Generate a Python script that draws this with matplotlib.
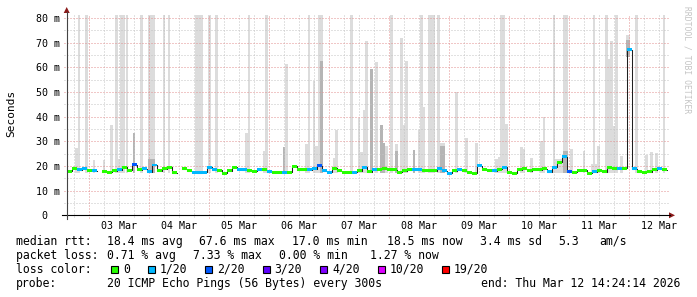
import numpy as np
import matplotlib
matplotlib.use("Agg")
import matplotlib.pyplot as plt
from matplotlib.patches import Polygon, Rectangle
from matplotlib.lines import Line2D

# --- data (times are days of March 2026, values in ms) ---
day_ticks = [3.5, 4.5, 5.5, 6.5, 7.5, 8.5, 9.5, 10.5, 11.5, 12.5]
day_labels = ["03 Mar", "04 Mar", "05 Mar", "06 Mar", "07 Mar",
              "08 Mar", "09 Mar", "10 Mar", "11 Mar", "12 Mar"]
rtt_ticks = [0, 10, 20, 30, 40, 50, 60, 70, 80]
rtt_labels = ["0  ", "10 m", "20 m", "30 m", "40 m", "50 m", "60 m", "70 m", "80 m"]

# median rtt, one value per 2 hour step
median_start = 2.633
median_step = 1 / 12
nan = np.nan
median_rtt = [
    17.8, 18.8, 18.5, 18.8, 18.3, 18.1, nan, 17.6, 17.4, 18.0,
    18.5, 19.4, 18.3, 20.5, 18.4, 18.8, 17.6, 20.4, 18.0, 18.8,
    19.4, 17.3, nan, 18.8, 18.0, 17.5, 17.3, 17.5, 19.4, 18.5,
    18.2, 17.0, 18.1, 19.4, 18.6, 18.4, 18.1, 17.9, 18.4, 18.4,
    17.6, 17.4, 17.4, 17.4, 17.4, 19.8, 18.4, 18.4, 18.4, 18.8,
    20.0, 18.1, 17.4, 19.0, 18.1, 17.5, 17.4, 17.4, 18.1, 19.4,
    17.7, 18.4, 18.6, 19.0, 18.4, 18.4, 17.4, 18.0, 18.4, 18.4,
    18.4, 18.0, 18.0, 18.0, 18.8, 18.0, 17.1, 18.0, 18.4, 18.1,
    17.5, 17.0, 20.0, 18.6, 18.0, 18.0, 18.6, 19.4, 17.4, 17.0,
    18.4, 18.8, 18.0, 18.4, 18.4, 18.8, 17.7, 19.4, 21.5, 23.8,
    17.7, 17.5, 18.0, 18.2, 17.0, 17.7, 18.0, 17.7, 19.4, 18.8,
    19.1, 19.1, 67.2, 18.8, 17.7, 17.4, 17.7, 18.4, 18.8, 18.4,
]
lost_pings = [
    0, 0, 1, 1, 0, 1, 0, 0, 0, 0,
    1, 0, 0, 2, 0, 1, 1, 1, 0, 0,
    0, 0, 0, 0, 0, 1, 1, 1, 1, 1,
    0, 0, 0, 0, 1, 1, 0, 0, 1, 0,
    1, 0, 0, 1, 0, 0, 0, 0, 1, 1,
    2, 1, 1, 0, 0, 0, 0, 1, 0, 1,
    0, 1, 0, 0, 0, 0, 0, 0, 0, 1,
    1, 0, 0, 0, 1, 1, 1, 0, 1, 0,
    0, 0, 1, 0, 0, 1, 0, 1, 0, 0,
    0, 0, 0, 0, 0, 0, 1, 1, 0, 1,
    2, 0, 0, 0, 0, 1, 0, 0, 0, 0,
    1, 0, 1, 1, 0, 0, 0, 0, 1, 0,
]

# smoke: ping spread per interval (min ping, max ping, darker inner part)
smoke_from = [2.767, 2.817, 2.933, 3.067, 3.233, 3.350, 3.433, 3.483, 3.517, 3.617,
              3.733, 3.850, 3.983, 4.233, 4.317, 4.767, 4.983, 5.100, 5.600, 5.650,
              5.900, 5.933, 6.233, 6.267, 6.600, 6.650, 6.733, 6.767, 6.817, 6.850,
              7.067, 7.100, 7.350, 7.483, 7.517, 7.567, 7.600, 7.683, 7.767, 7.850,
              7.900, 7.933, 8.017, 8.100, 8.183, 8.233, 8.267, 8.400, 8.483, 8.517,
              8.567, 8.650, 8.800, 8.850, 9.100, 9.267, 9.433, 9.767, 9.817, 9.850,
              9.933, 10.183, 10.233, 10.350, 10.517, 10.567, 10.733, 10.900, 11.017, 11.233,
              11.400, 11.467, 11.600, 11.650, 11.683, 11.733, 11.767, 11.850, 11.950, 12.100,
              12.267, 12.350, 12.433, 12.567, 10.767, 11.367]
smoke_to = [2.817, 2.850, 2.983, 3.100, 3.267, 3.400, 3.483, 3.517, 3.600, 3.650,
            3.767, 3.900, 4.100, 4.267, 4.350, 4.900, 5.033, 5.150, 5.650, 5.683,
            5.933, 5.983, 6.267, 6.317, 6.650, 6.683, 6.767, 6.817, 6.850, 6.900,
            7.100, 7.150, 7.400, 7.517, 7.567, 7.600, 7.650, 7.733, 7.817, 7.900,
            7.933, 7.983, 8.067, 8.150, 8.233, 8.267, 8.317, 8.433, 8.517, 8.567,
            8.600, 8.767, 8.850, 8.933, 9.150, 9.317, 9.483, 9.817, 9.850, 9.933,
            9.983, 10.233, 10.267, 10.400, 10.567, 10.600, 10.767, 10.983, 11.067, 11.267,
            11.433, 11.517, 11.650, 11.683, 11.733, 11.767, 11.817, 11.900, 12.017, 12.150,
            12.317, 12.400, 12.483, 12.600, 10.900, 11.483]
smoke_low = [17.2] * 78 + [64.0] + [17.2] * 7
smoke_max = [27.3, 95.0, 95.0, 22.4, 22.5, 36.6, 95.0, 23.0, 95.0, 95.0,
             33.4, 95.0, 95.0, 95.0, 95.0, 95.0, 95.0, 95.0, 33.3, 95.0,
             26.0, 95.0, 27.6, 61.4, 28.9, 95.0, 54.6, 28.3, 95.0, 95.0,
             23.2, 34.7, 95.0, 39.5, 25.7, 42.8, 70.8, 59.5, 62.0, 36.7,
             29.3, 28.2, 95.0, 29.0, 71.9, 36.6, 62.7, 26.6, 34.6, 95.0,
             43.9, 95.0, 95.0, 29.3, 49.9, 31.4, 29.3, 22.7, 23.5, 95.0,
             37.0, 27.6, 26.8, 23.4, 30.3, 39.7, 95.0, 95.0, 26.8, 26.2,
             95.0, 28.3, 95.0, 63.5, 70.8, 36.1, 95.0, 24.0, 73.0, 95.0,
             24.6, 25.8, 25.4, 95.0, 23.0, 21.0]
smoke_mid = [nan, nan, nan, nan, nan, nan, nan, nan, nan, nan,
             33.4, nan, 23.0, nan, nan, nan, nan, nan, nan, nan,
             nan, nan, 27.6, nan, nan, nan, nan, nan, nan, 62.7,
             nan, nan, nan, nan, nan, nan, nan, 59.5, nan, 36.7,
             29.3, nan, nan, 26.0, nan, nan, nan, 26.6, nan, nan,
             nan, nan, nan, 28.0, nan, nan, nan, nan, nan, nan,
             nan, nan, nan, nan, nan, nan, nan, 26.0, nan, nan,
             nan, nan, nan, nan, nan, nan, nan, nan, 71.0, nan,
             nan, nan, nan, nan, nan, nan]

loss_steps = [0, 1, 2, 3, 4, 10, 19]
loss_names = ["0", "1/20", "2/20", "3/20", "4/20", "10/20", "19/20"]
loss_colors = ["#26ff00", "#00b8ff", "#0059ff", "#5e00ff", "#7e00ff", "#dd00ff", "#ff0000"]

W, H = 697, 297
MONO = "DejaVu Sans Mono"


def fx(x):
    return x / W


def fy(y):
    return 1 - y / H


fig = plt.figure(figsize=(W / 100, H / 100), dpi=100)
fig.patch.set_facecolor("white")
ax = fig.add_axes([fx(66.7), fy(215.3), fx(668) - fx(66.7), fy(15) - fy(215.3)])
ax.set_xlim(2.628, 12.650)
ax.set_ylim(0, 81.22)
for s in ax.spines.values():
    s.set_visible(False)
ax.set_facecolor("white")

# --- smoke ---
s_from = np.array(smoke_from)
s_w = np.array(smoke_to) - s_from
s_low = np.array(smoke_low)
s_max = np.array(smoke_max)
s_mid = np.array(smoke_mid)
ax.bar(s_from, s_max - s_low, width=s_w, bottom=s_low, align="edge",
       color="#dcdcdc", lw=0, zorder=1)
has_mid = ~np.isnan(s_mid)
ax.bar(s_from[has_mid], s_mid[has_mid] - s_low[has_mid], width=s_w[has_mid],
       bottom=s_low[has_mid], align="edge", color="#b5b5b5", lw=0, zorder=1.1)

# --- grid ---
x0, x1 = ax.get_xlim()
y1 = ax.get_ylim()[1]
px_x = 1 / 60.0
px_y = 1 / 2.466
minor_x = [d / 4 for d in range(11, 51) if d % 4 != 0 and x0 < d / 4 < x1]
major_x = [d for d in range(3, 13)]
minor_y = [v + 5 for v in rtt_ticks[:-1]]
dot = dict(lw=0.72, linestyle=(0, (1, 2)), zorder=2, clip_on=False)
ax.vlines(minor_x, -2 * px_y, y1, color="#c4c4c4", **dot)
ax.hlines(minor_y, x0 - 3 * px_x, x1, color="#c4c4c4", **dot)
ax.vlines(major_x, -3 * px_y, y1, color="#e29191", **dot)
ax.hlines(rtt_ticks[1:], x0 - 3 * px_x, x1, color="#e29191", **dot)

# --- median line with loss colour bands ---
med = np.array(median_rtt)
edges = median_start + median_step * np.arange(len(med) + 1)
ax.plot(edges, np.append(med, med[-1]), drawstyle="steps-post", color="#202020",
        lw=0.75, zorder=3)
band = 0.6
lost = np.array(lost_pings)
for lv, col in zip(loss_steps, loss_colors):
    m = (lost == lv) & ~np.isnan(med)
    if m.any():
        ax.bar(edges[:-1][m], 2 * band, width=median_step, bottom=med[m] - band,
               align="edge", color=col, lw=0, zorder=4)

# --- ticks ---
ax.set_xticks(day_ticks, day_labels)
ax.set_yticks(rtt_ticks, rtt_labels)
ax.tick_params(axis="both", length=0, labelsize=7.2, colors="black")
ax.tick_params(axis="x", pad=4.2)
ax.tick_params(axis="y", pad=4.6)
for lab in ax.get_xticklabels() + ax.get_yticklabels():
    lab.set_family(MONO)

# --- axes and arrows (figure pixels) ---
arrow_col = "#8b1a1a"
fig.add_artist(Line2D([fx(62), fx(670)], [fy(215.3), fy(215.3)], color="black", lw=0.8))
fig.add_artist(Line2D([fx(66.7), fx(66.7)], [fy(219), fy(12)], color="#444444", lw=0.8))
fig.add_artist(Polygon([(fx(669), fy(212.3)), (fx(675), fy(215.3)), (fx(669), fy(218.3))],
                       closed=True, color=arrow_col, lw=0))
fig.add_artist(Polygon([(fx(63.7), fy(13)), (fx(66.7), fy(7)), (fx(69.7), fy(13))],
                       closed=True, color=arrow_col, lw=0))

fig.text(fx(10.8), fy(113.5), "Seconds", rotation=90, ha="center", va="center",
         fontsize=8, family=MONO)
fig.text(fx(687.5), fy(60), "RRDTOOL / TOBI OETIKER", rotation=-90, ha="center",
         va="center", fontsize=5.8, family=MONO, color="#c4c4c4")

# --- legend ---
leg = dict(fontsize=8.3, family=MONO, va="center", ha="left")
row1 = [(15.5, "median rtt:"), (106.7, "18.4 ms avg"), (199, "67.6 ms max"),
        (292, "17.0 ms min"), (387, "18.5 ms now"), (480.5, "3.4 ms sd"),
        (558.3, "5.3"), (599.3, "am/s")]
row2 = [(15.5, "packet loss:"), (106.7, "0.71 % avg"), (193, "7.33 % max"),
        (279, "0.00 % min"), (369.5, "1.27 % now")]
for x, t in row1:
    fig.text(fx(x), fy(241.5), t, **leg)
for x, t in row2:
    fig.text(fx(x), fy(255.5), t, **leg)

fig.text(fx(15.5), fy(269.5), "loss color:", **leg)
bx = 111.0
char_w = 6.95
for name, col in zip(loss_names, loss_colors):
    fig.add_artist(Rectangle((fx(bx), fy(273)), fx(7), fy(266) - fy(273),
                             facecolor=col, edgecolor="black", lw=0.8))
    fig.text(fx(bx + 12), fy(269.5), name, **leg)
    bx = bx + 12 + len(name) * char_w + 17.7

fig.text(fx(15.5), fy(283.5), "probe:", **leg)
fig.text(fx(106.7), fy(283.5), "20 ICMP Echo Pings (56 Bytes) every 300s", **leg)
fig.text(fx(680.5), fy(283.5), "end: Thu Mar 12 14:24:14 2026",
         **{**leg, "ha": "right"})

fig.savefig("out.png", dpi=100, facecolor="white")
